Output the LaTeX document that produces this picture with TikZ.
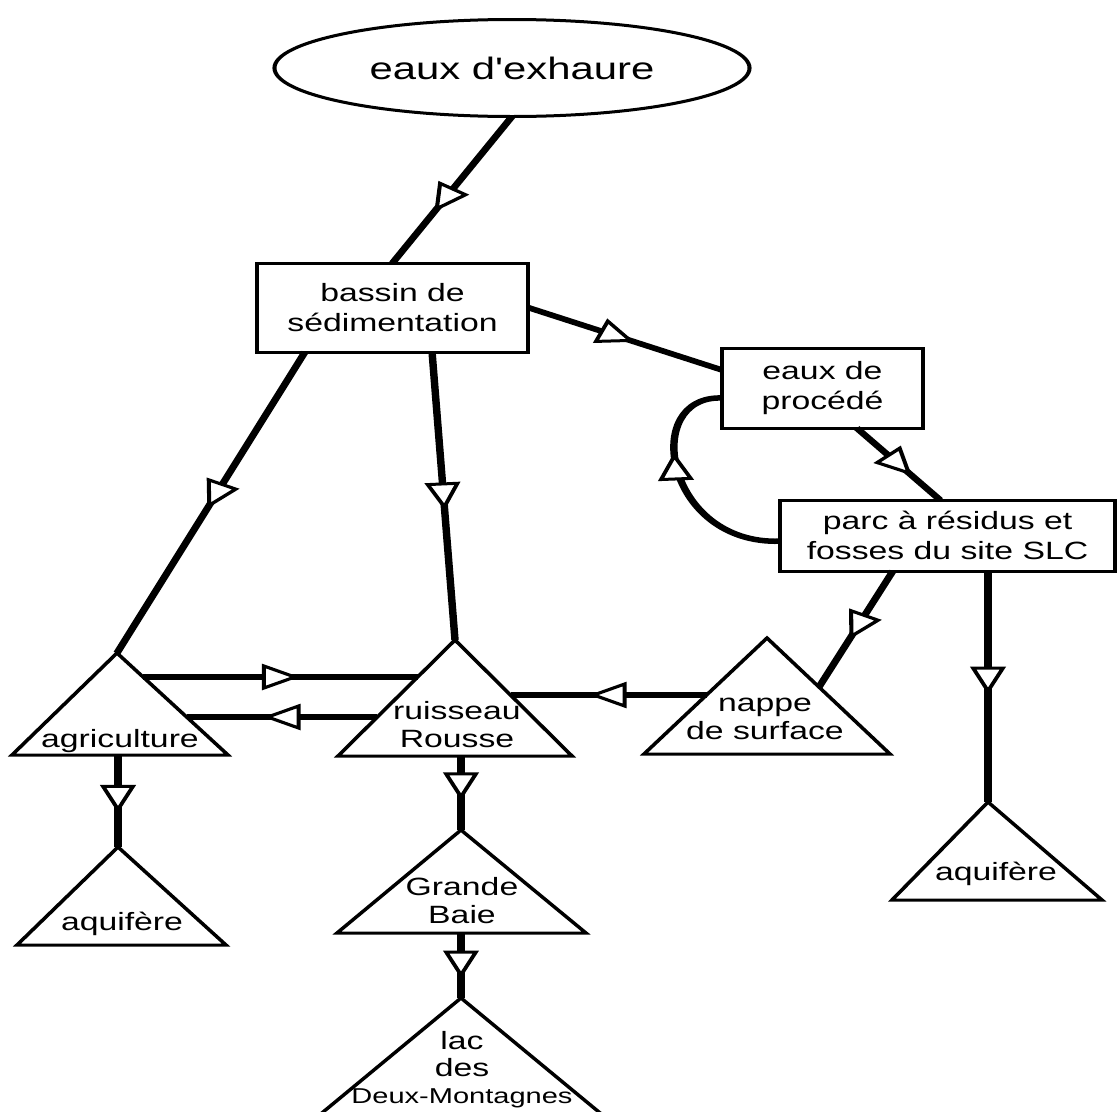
\documentclass[tikz,border=0pt]{standalone}
\usepackage{fontspec}
\newfontfamily\diafont{Liberation Sans}
\usetikzlibrary{arrows.meta,decorations.markings,shapes.geometric,calc}
\newcommand\trishape[6]{% name, apex x, apex y, left x, right x, base y
  \coordinate (#1-a) at (#2,#3);
  \coordinate (#1-l) at (#4,#6);
  \coordinate (#1-r) at (#5,#6);
  \draw[shapeline] (#1-a) -- (#1-l) -- (#1-r) -- cycle;}
\tikzset{
  shapeline/.style={line width=3pt, line join=miter},
  boxnode/.style={draw, line width=3pt, rectangle, inner sep=0pt, outer sep=0pt, align=center, font=\diafont\fontsize{25}{30}\selectfont},
  txt/.style={inner sep=0pt, outer sep=0pt, align=center, font=\diafont\fontsize{25}{28}\selectfont},
  flow/.style={line width=5.5pt, postaction={decorate},
    decoration={markings, mark=at position #1 with {\arrow{Triangle[length=28pt,width=26pt,line width=3pt,fill=white]}}}},
}
\begin{document}
\begin{tikzpicture}
\path[use as bounding box, fill=white] (0pt,0pt) rectangle (1118pt,-1111pt);
\begin{scope}[transform canvas={xscale=1.35}, x=0.740741pt, y=-1pt]
  % nodes
  \node[draw, ellipse, line width=3pt, inner sep=0pt, outer sep=0pt, minimum width=351.9pt, minimum height=97pt, font=\diafont\fontsize{31}{36}\selectfont] (exh) at (512,68) {eaux d'exhaure};
  \node[boxnode, minimum width=200.7pt, minimum height=89pt] (bassin) at (392.5,307.5) {bassin de\\sédimentation};
  \node[boxnode, minimum width=148.9pt, minimum height=80pt] (eaux) at (822.5,388) {eaux de\\procédé};
  \node[boxnode, minimum width=248pt, minimum height=71pt] (parc) at (947.5,535.5) {parc à résidus et\\fosses du site SLC};
  % triangles
  \trishape{agri}{117}{653}{12}{228}{755}
  \trishape{ruis}{455}{640}{338}{572}{756}
  \trishape{nap}{767}{638}{644}{890}{754}
  \trishape{aqg}{118}{847}{17}{226}{945}
  \trishape{gb}{461}{830}{337}{586}{933}
  \trishape{lac}{461}{998}{311}{611}{1122}
  \trishape{aqd}{988}{802}{892}{1102}{900}
  \node[txt, anchor=base] (agritxt) at (120,747) {agriculture};
  \node[txt] (ruistxt) at (457,724.5) {ruisseau\\Rousse};
  \node[txt] (naptxt) at (765,718.5) {nappe\\de surface};
  \node[txt, anchor=base] (aqgtxt) at (122,930) {aquifère};
  \node[txt] (gbtxt) at (462,901) {Grande\\Baie};
  \node[txt, font=\diafont\fontsize{25}{27}\selectfont] (lactxt) at (462,1070) {lac\\des\\{\fontsize{21.5}{27}\selectfont Deux-Montagnes}};
  \node[txt, anchor=base] (aqdtxt) at (996,880) {aquifère};
  % edge end points on triangle sides
  \coordinate (nap-w) at (706.6,695);
  \coordinate (ruis-e) at (510.5,695);
  \coordinate (agri-e1) at (143.1,677);
  \coordinate (ruis-w1) at (417.7,677);
  \coordinate (ruis-w2) at (377.3,717);
  \coordinate (agri-e2) at (186.6,717);
  \coordinate (nap-ne) at (819,687);
  \coordinate (agri-s) at (118,755);
  \coordinate (ruis-s) at (461,756);
  \coordinate (gb-s) at (461,933);
  % connectors
  \draw[flow=0.65] (exh.south) -- (bassin.north);
  \draw[flow=0.55] (bassin.east) -- ($(eaux.north west)!0.275!(eaux.south west)$);
  \draw[flow=0.66] ($(eaux.south west)!0.67!(eaux.south east)$) -- ($(parc.north west)!0.478!(parc.north east)$);
  \draw[flow=0.64] ($(parc.north west)!0.58!(parc.south west)$) .. controls (665,545) and (640,395) .. ($(eaux.north west)!0.625!(eaux.south west)$);
  \draw[flow=0.59] ($(parc.south west)!0.337!(parc.south east)$) -- (nap-ne);
  \draw[flow=0.535] (parc.south west -| aqd-a) -- (aqd-a);
  \draw[flow=0.6] (nap-w) -- (ruis-e);
  \draw[flow=0.57] (agri-e1) -- (ruis-w1);
  \draw[flow=0.6] (ruis-w2) -- (agri-e2);
  \draw[flow=0.63] (agri-s) -- (aqg-a);
  \draw[flow=0.6] (ruis-s) -- (gb-a);
  \draw[flow=0.7] (gb-s) -- (lac-a);
  \draw[flow=0.52] ($(bassin.south west)!0.177!(bassin.south east)$) -- (agri-a);
  \draw[flow=0.55] ($(bassin.south west)!0.646!(bassin.south east)$) -- (ruis-a);
\end{scope}
\end{tikzpicture}
\end{document}
